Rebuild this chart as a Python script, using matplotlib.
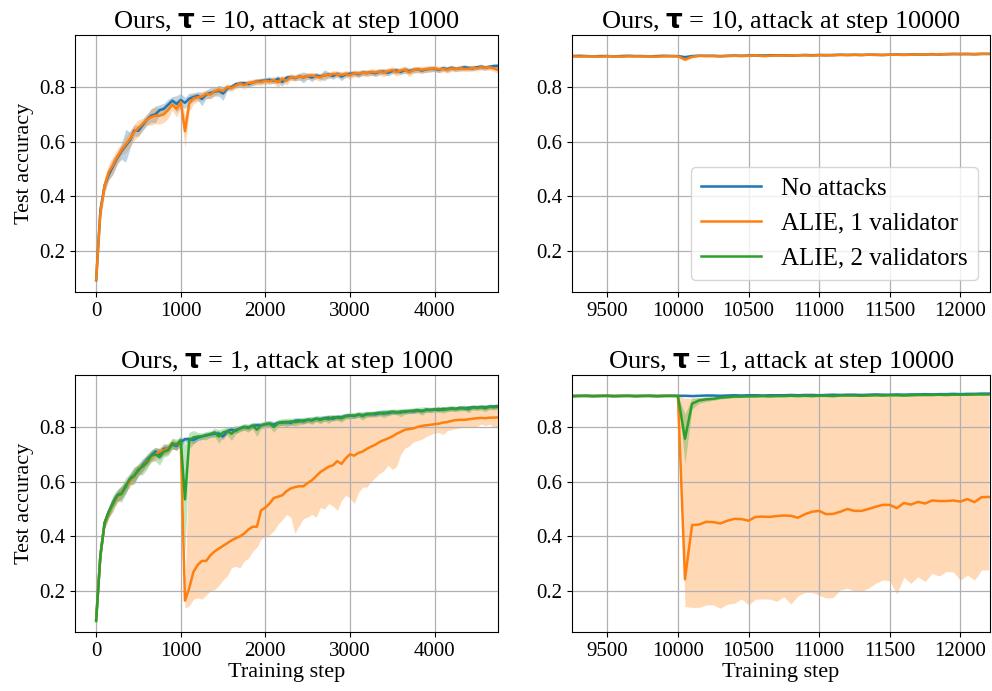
import numpy as np
import matplotlib
matplotlib.use("Agg")
import matplotlib.pyplot as plt
from matplotlib.lines import Line2D

plt.rcParams['font.family'] = 'serif'
plt.rcParams['font.serif'] = ['Liberation Serif', 'DejaVu Serif']
plt.rcParams['mathtext.fontset'] = 'dejavusans'

BLUE, ORANGE, GREEN = '#1f77b4', '#ff7f0e', '#2ca02c'

# ---- attack at step 1000: evaluation every 50 steps, 0..4750 ----
early_steps = np.arange(0, 4800, 50)

# tau = 10
t10_early_none = [
    0.093, 0.35, 0.44, 0.48, 0.51, 0.54, 0.565, 0.585, 0.605, 0.64,
    0.64, 0.66, 0.68, 0.695, 0.70, 0.715, 0.72, 0.735, 0.75, 0.738,
    0.752, 0.742, 0.757, 0.763, 0.768, 0.756, 0.772, 0.778, 0.782, 0.786,
    0.776, 0.795, 0.80, 0.81, 0.812, 0.814, 0.81, 0.816, 0.82, 0.822,
    0.824, 0.826, 0.822, 0.83, 0.818, 0.834, 0.836, 0.832, 0.838, 0.835,
    0.84, 0.834, 0.842, 0.838, 0.843, 0.845, 0.84, 0.848, 0.838, 0.846,
    0.848, 0.85, 0.846, 0.852, 0.851, 0.853, 0.85, 0.855, 0.856, 0.852,
    0.858, 0.86, 0.855, 0.862, 0.858, 0.862, 0.864, 0.86, 0.864, 0.866,
    0.866, 0.862, 0.868, 0.865, 0.87, 0.866, 0.868, 0.872, 0.87, 0.868,
    0.872, 0.874, 0.87, 0.874, 0.876, 0.877]
t10_early_none_sd = [
    0.0, 0.03, 0.02, 0.02, 0.03, 0.02, 0.03, 0.06, 0.03, 0.02,
    0.02, 0.02, 0.02, 0.025, 0.03, 0.02, 0.02, 0.02, 0.015, 0.03,
    0.025, 0.02, 0.02, 0.015, 0.015, 0.025, 0.015, 0.02, 0.015, 0.02,
    0.025, 0.01, 0.01, 0.01, 0.01, 0.01, 0.01, 0.01, 0.01, 0.01,
    0.01, 0.012, 0.01, 0.012, 0.015, 0.01, 0.01, 0.01, 0.012, 0.02,
    0.01, 0.015, 0.01, 0.01, 0.02, 0.01, 0.012, 0.01, 0.015, 0.01,
    0.01, 0.01, 0.012, 0.01, 0.01, 0.01, 0.012, 0.01, 0.01, 0.012,
    0.01, 0.01, 0.01, 0.012, 0.01, 0.01, 0.01, 0.01, 0.01, 0.01,
    0.01, 0.01, 0.01, 0.01, 0.01, 0.008, 0.01, 0.01, 0.008, 0.01,
    0.008, 0.01, 0.008, 0.008, 0.01, 0.008]
t10_early_alie1 = [
    0.095, 0.34, 0.44, 0.49, 0.515, 0.545, 0.57, 0.59, 0.61, 0.635,
    0.65, 0.665, 0.68, 0.69, 0.695, 0.695, 0.70, 0.715, 0.735, 0.72,
    0.745, 0.638, 0.74, 0.758, 0.762, 0.765, 0.775, 0.772, 0.784, 0.79,
    0.785, 0.80, 0.796, 0.805, 0.812, 0.806, 0.815, 0.816, 0.82, 0.818,
    0.823, 0.82, 0.826, 0.816, 0.83, 0.822, 0.836, 0.834, 0.838, 0.836,
    0.84, 0.842, 0.838, 0.835, 0.844, 0.842, 0.848, 0.846, 0.844, 0.848,
    0.842, 0.85, 0.849, 0.852, 0.85, 0.855, 0.853, 0.856, 0.852, 0.858,
    0.862, 0.854, 0.86, 0.864, 0.853, 0.862, 0.864, 0.863, 0.865, 0.866,
    0.868, 0.864, 0.866, 0.862, 0.868, 0.865, 0.869, 0.866, 0.866, 0.87,
    0.868, 0.872, 0.87, 0.872, 0.868, 0.862]
t10_early_alie1_sd = [
    0.0, 0.03, 0.03, 0.03, 0.03, 0.03, 0.02, 0.03, 0.03, 0.03,
    0.03, 0.02, 0.02, 0.03, 0.03, 0.03, 0.03, 0.03, 0.02, 0.03,
    0.02, 0.06, 0.03, 0.02, 0.015, 0.015, 0.015, 0.015, 0.015, 0.015,
    0.015, 0.012, 0.012, 0.012, 0.012, 0.012, 0.012, 0.012, 0.012, 0.012,
    0.012, 0.012, 0.012, 0.02, 0.012, 0.015, 0.012, 0.012, 0.012, 0.012,
    0.012, 0.012, 0.012, 0.015, 0.012, 0.012, 0.012, 0.012, 0.012, 0.012,
    0.015, 0.012, 0.012, 0.012, 0.012, 0.012, 0.012, 0.012, 0.015, 0.012,
    0.012, 0.015, 0.012, 0.012, 0.015, 0.012, 0.012, 0.012, 0.012, 0.012,
    0.01, 0.012, 0.01, 0.012, 0.01, 0.01, 0.01, 0.01, 0.01, 0.01,
    0.01, 0.01, 0.01, 0.01, 0.012, 0.012]

# tau = 1
t1_early_none = [
    0.095, 0.33, 0.45, 0.49, 0.525, 0.55, 0.56, 0.58, 0.61, 0.625,
    0.64, 0.66, 0.68, 0.695, 0.71, 0.70, 0.72, 0.72, 0.735, 0.73,
    0.745, 0.755, 0.755, 0.752, 0.76, 0.765, 0.77, 0.772, 0.775, 0.776,
    0.765, 0.785, 0.79, 0.786, 0.795, 0.80, 0.798, 0.804, 0.806, 0.805,
    0.81, 0.812, 0.808, 0.815, 0.816, 0.818, 0.815, 0.822, 0.824, 0.82,
    0.826, 0.825, 0.83, 0.828, 0.832, 0.834, 0.83, 0.836, 0.835, 0.84,
    0.842, 0.84, 0.845, 0.843, 0.846, 0.848, 0.846, 0.85, 0.852, 0.85,
    0.854, 0.853, 0.856, 0.855, 0.858, 0.857, 0.86, 0.858, 0.862, 0.862,
    0.864, 0.862, 0.866, 0.865, 0.867, 0.866, 0.87, 0.868, 0.87, 0.872,
    0.871, 0.873, 0.872, 0.874, 0.875, 0.876]
t1_early_none_sd = [
    0.0, 0.03, 0.02, 0.02, 0.02, 0.02, 0.025, 0.02, 0.02, 0.03,
    0.02, 0.02, 0.02, 0.02, 0.015, 0.02, 0.02, 0.015, 0.015, 0.015,
    0.015, 0.01, 0.01, 0.012, 0.01, 0.01, 0.01, 0.01, 0.012, 0.01,
    0.012, 0.01, 0.01, 0.01, 0.01, 0.01, 0.01, 0.01, 0.01, 0.01,
    0.01, 0.01, 0.01, 0.01, 0.01, 0.01, 0.01, 0.01, 0.01, 0.01,
    0.01, 0.01, 0.01, 0.01, 0.01, 0.01, 0.01, 0.01, 0.01, 0.01,
    0.01, 0.01, 0.01, 0.01, 0.01, 0.01, 0.01, 0.01, 0.01, 0.01,
    0.008, 0.008, 0.008, 0.008, 0.008, 0.008, 0.008, 0.008, 0.008, 0.008,
    0.008, 0.008, 0.008, 0.008, 0.008, 0.008, 0.008, 0.008, 0.008, 0.008,
    0.008, 0.008, 0.008, 0.008, 0.008, 0.008]
t1_early_alie1 = [
    0.095, 0.33, 0.45, 0.485, 0.52, 0.545, 0.56, 0.585, 0.60, 0.625,
    0.645, 0.655, 0.675, 0.69, 0.70, 0.71, 0.715, 0.72, 0.74, 0.735,
    0.75, 0.165, 0.21, 0.27, 0.295, 0.31, 0.31, 0.33, 0.345, 0.355,
    0.365, 0.375, 0.385, 0.393, 0.40, 0.41, 0.425, 0.435, 0.435, 0.495,
    0.505, 0.52, 0.54, 0.545, 0.55, 0.565, 0.575, 0.58, 0.583, 0.583,
    0.595, 0.605, 0.62, 0.635, 0.645, 0.655, 0.66, 0.675, 0.665, 0.685,
    0.70, 0.695, 0.705, 0.71, 0.72, 0.728, 0.735, 0.745, 0.752, 0.758,
    0.765, 0.775, 0.782, 0.79, 0.792, 0.795, 0.80, 0.804, 0.806, 0.808,
    0.81, 0.812, 0.816, 0.818, 0.822, 0.825, 0.826, 0.826, 0.828, 0.83,
    0.832, 0.833, 0.832, 0.834, 0.834, 0.835]
t1_early_alie1_lo = [
    0.09, 0.31, 0.43, 0.465, 0.50, 0.52, 0.54, 0.56, 0.58, 0.60,
    0.62, 0.635, 0.655, 0.67, 0.68, 0.69, 0.695, 0.70, 0.72, 0.715,
    0.73, 0.137, 0.145, 0.17, 0.175, 0.17, 0.185, 0.20, 0.205, 0.22,
    0.24, 0.255, 0.285, 0.29, 0.285, 0.31, 0.32, 0.345, 0.36, 0.39,
    0.40, 0.405, 0.42, 0.445, 0.46, 0.48, 0.47, 0.41, 0.44, 0.465,
    0.47, 0.48, 0.47, 0.505, 0.50, 0.52, 0.51, 0.495, 0.53, 0.55,
    0.54, 0.52, 0.56, 0.58, 0.58, 0.60, 0.615, 0.63, 0.64, 0.66,
    0.645, 0.655, 0.70, 0.722, 0.73, 0.745, 0.75, 0.755, 0.765, 0.772,
    0.778, 0.78, 0.772, 0.786, 0.79, 0.794, 0.796, 0.80, 0.80, 0.80,
    0.802, 0.81, 0.805, 0.81, 0.80, 0.80]
t1_early_alie1_hi = [
    0.10, 0.35, 0.47, 0.505, 0.54, 0.565, 0.58, 0.605, 0.62, 0.645,
    0.665, 0.675, 0.695, 0.71, 0.72, 0.725, 0.735, 0.74, 0.755, 0.75,
    0.76, 0.19, 0.745, 0.748, 0.752, 0.758, 0.762, 0.766, 0.77, 0.772,
    0.77, 0.78, 0.786, 0.784, 0.79, 0.796, 0.795, 0.80, 0.803, 0.802,
    0.806, 0.81, 0.805, 0.812, 0.813, 0.815, 0.812, 0.818, 0.82, 0.818,
    0.822, 0.822, 0.826, 0.825, 0.828, 0.83, 0.828, 0.832, 0.832, 0.836,
    0.838, 0.837, 0.84, 0.84, 0.842, 0.845, 0.843, 0.846, 0.848, 0.847,
    0.85, 0.85, 0.852, 0.852, 0.855, 0.854, 0.857, 0.855, 0.858, 0.859,
    0.86, 0.86, 0.862, 0.862, 0.864, 0.863, 0.866, 0.865, 0.867, 0.868,
    0.868, 0.87, 0.869, 0.871, 0.872, 0.872]
t1_early_alie2 = [
    0.09, 0.33, 0.45, 0.49, 0.52, 0.55, 0.555, 0.585, 0.61, 0.62,
    0.645, 0.655, 0.67, 0.695, 0.70, 0.69, 0.71, 0.715, 0.74, 0.735,
    0.752, 0.535, 0.75, 0.762, 0.765, 0.766, 0.768, 0.774, 0.78, 0.765,
    0.78, 0.785, 0.775, 0.79, 0.794, 0.80, 0.796, 0.805, 0.79, 0.806,
    0.81, 0.812, 0.80, 0.814, 0.818, 0.816, 0.82, 0.818, 0.82, 0.824,
    0.826, 0.824, 0.83, 0.826, 0.832, 0.828, 0.836, 0.834, 0.832, 0.84,
    0.84, 0.842, 0.845, 0.84, 0.848, 0.846, 0.85, 0.852, 0.848, 0.854,
    0.856, 0.855, 0.852, 0.858, 0.858, 0.86, 0.862, 0.858, 0.864, 0.862,
    0.864, 0.866, 0.862, 0.866, 0.868, 0.866, 0.868, 0.87, 0.864, 0.872,
    0.87, 0.872, 0.868, 0.874, 0.872, 0.874]
t1_early_alie2_sd = [
    0.0, 0.02, 0.02, 0.02, 0.03, 0.02, 0.03, 0.03, 0.02, 0.03,
    0.02, 0.03, 0.025, 0.02, 0.025, 0.03, 0.02, 0.02, 0.02, 0.02,
    0.015, 0.2, 0.03, 0.025, 0.015, 0.012, 0.015, 0.012, 0.015, 0.025,
    0.015, 0.015, 0.025, 0.015, 0.012, 0.012, 0.015, 0.012, 0.025, 0.012,
    0.012, 0.012, 0.02, 0.012, 0.012, 0.015, 0.012, 0.015, 0.012, 0.012,
    0.01, 0.015, 0.01, 0.015, 0.01, 0.015, 0.01, 0.01, 0.015, 0.01,
    0.01, 0.01, 0.01, 0.015, 0.01, 0.01, 0.01, 0.01, 0.015, 0.01,
    0.01, 0.01, 0.015, 0.01, 0.01, 0.01, 0.01, 0.015, 0.01, 0.01,
    0.01, 0.01, 0.012, 0.01, 0.01, 0.01, 0.01, 0.01, 0.012, 0.01,
    0.01, 0.01, 0.012, 0.01, 0.01, 0.01]

# ---- attack at step 10000: evaluation every 50 steps, 9250..12200 ----
late_steps = np.arange(9250, 12250, 50)

t10_late_none = [
    0.913, 0.914, 0.913, 0.912, 0.913, 0.913, 0.912, 0.913, 0.914, 0.913,
    0.913, 0.912, 0.913, 0.914, 0.913, 0.913, 0.909, 0.913, 0.914, 0.914,
    0.914, 0.913, 0.914, 0.915, 0.914, 0.915, 0.916, 0.915, 0.916, 0.916,
    0.916, 0.915, 0.916, 0.917, 0.916, 0.917, 0.916, 0.917, 0.918, 0.917,
    0.918, 0.917, 0.918, 0.918, 0.917, 0.918, 0.919, 0.918, 0.919, 0.919,
    0.919, 0.920, 0.919, 0.920, 0.921, 0.920, 0.921, 0.920, 0.921, 0.921]
t10_late_alie1 = [
    0.912, 0.911, 0.912, 0.912, 0.911, 0.912, 0.912, 0.911, 0.912, 0.912,
    0.912, 0.912, 0.911, 0.912, 0.913, 0.912, 0.900, 0.910, 0.914, 0.913,
    0.913, 0.912, 0.913, 0.914, 0.913, 0.914, 0.916, 0.913, 0.914, 0.915,
    0.915, 0.915, 0.916, 0.916, 0.915, 0.916, 0.917, 0.916, 0.917, 0.917,
    0.917, 0.917, 0.918, 0.917, 0.917, 0.918, 0.918, 0.917, 0.918, 0.919,
    0.919, 0.919, 0.920, 0.920, 0.920, 0.921, 0.920, 0.920, 0.921, 0.921]
t10_late_sd = [
    0.003, 0.003, 0.003, 0.003, 0.003, 0.003, 0.003, 0.003, 0.003, 0.003,
    0.003, 0.003, 0.003, 0.003, 0.003, 0.003, 0.006, 0.003, 0.003, 0.003,
    0.003, 0.003, 0.003, 0.003, 0.003, 0.003, 0.004, 0.003, 0.003, 0.003,
    0.003, 0.003, 0.003, 0.003, 0.003, 0.003, 0.003, 0.003, 0.003, 0.003,
    0.003, 0.003, 0.003, 0.003, 0.003, 0.003, 0.003, 0.003, 0.003, 0.003,
    0.003, 0.003, 0.003, 0.003, 0.003, 0.003, 0.003, 0.003, 0.003, 0.003]

t1_late_none = [
    0.913, 0.914, 0.914, 0.913, 0.914, 0.914, 0.913, 0.914, 0.914, 0.913,
    0.914, 0.914, 0.913, 0.914, 0.914, 0.914, 0.914, 0.913, 0.914, 0.915,
    0.915, 0.914, 0.915, 0.916, 0.915, 0.916, 0.916, 0.915, 0.916, 0.916,
    0.916, 0.917, 0.916, 0.917, 0.917, 0.916, 0.917, 0.918, 0.917, 0.918,
    0.918, 0.917, 0.918, 0.919, 0.918, 0.918, 0.919, 0.918, 0.919, 0.919,
    0.920, 0.919, 0.920, 0.920, 0.921, 0.920, 0.921, 0.921, 0.922, 0.922]
t1_late_none_sd = [
    0.003, 0.003, 0.003, 0.003, 0.003, 0.003, 0.003, 0.003, 0.003, 0.003,
    0.003, 0.003, 0.003, 0.003, 0.003, 0.003, 0.003, 0.003, 0.003, 0.003,
    0.003, 0.003, 0.003, 0.003, 0.003, 0.003, 0.003, 0.003, 0.003, 0.003,
    0.003, 0.003, 0.003, 0.003, 0.003, 0.003, 0.003, 0.003, 0.003, 0.003,
    0.003, 0.003, 0.003, 0.003, 0.003, 0.003, 0.003, 0.003, 0.003, 0.003,
    0.003, 0.003, 0.003, 0.003, 0.003, 0.003, 0.003, 0.003, 0.003, 0.003]
t1_late_alie1 = [
    0.913, 0.914, 0.913, 0.913, 0.914, 0.913, 0.913, 0.914, 0.913, 0.913,
    0.914, 0.913, 0.913, 0.914, 0.913, 0.914, 0.243, 0.441, 0.443, 0.453,
    0.452, 0.447, 0.457, 0.464, 0.463, 0.457, 0.471, 0.472, 0.471, 0.474,
    0.476, 0.475, 0.468, 0.481, 0.490, 0.493, 0.481, 0.482, 0.490, 0.500,
    0.493, 0.493, 0.500, 0.508, 0.515, 0.515, 0.503, 0.522, 0.516, 0.526,
    0.520, 0.531, 0.529, 0.529, 0.531, 0.527, 0.536, 0.525, 0.543, 0.544]
t1_late_alie1_lo = [
    0.910, 0.911, 0.910, 0.910, 0.911, 0.910, 0.910, 0.911, 0.910, 0.910,
    0.911, 0.910, 0.910, 0.911, 0.910, 0.911, 0.143, 0.140, 0.140, 0.149,
    0.149, 0.137, 0.152, 0.155, 0.171, 0.149, 0.170, 0.171, 0.170, 0.162,
    0.179, 0.152, 0.182, 0.195, 0.195, 0.185, 0.174, 0.176, 0.204, 0.210,
    0.200, 0.200, 0.210, 0.228, 0.240, 0.238, 0.189, 0.250, 0.228, 0.252,
    0.234, 0.265, 0.255, 0.271, 0.270, 0.240, 0.258, 0.240, 0.277, 0.277]
t1_late_alie1_hi = [
    0.916, 0.917, 0.916, 0.916, 0.917, 0.916, 0.916, 0.917, 0.916, 0.916,
    0.917, 0.916, 0.916, 0.917, 0.916, 0.917, 0.905, 0.905, 0.908, 0.910,
    0.910, 0.911, 0.911, 0.912, 0.912, 0.912, 0.913, 0.913, 0.913, 0.913,
    0.913, 0.914, 0.913, 0.914, 0.914, 0.914, 0.915, 0.914, 0.915, 0.915,
    0.915, 0.916, 0.916, 0.916, 0.916, 0.917, 0.916, 0.917, 0.917, 0.917,
    0.917, 0.918, 0.918, 0.918, 0.918, 0.919, 0.918, 0.919, 0.919, 0.919]
t1_late_alie2 = [
    0.913, 0.913, 0.914, 0.913, 0.913, 0.914, 0.913, 0.913, 0.914, 0.913,
    0.913, 0.914, 0.913, 0.913, 0.914, 0.913, 0.757, 0.885, 0.897, 0.901,
    0.903, 0.907, 0.909, 0.911, 0.911, 0.912, 0.912, 0.913, 0.912, 0.913,
    0.913, 0.914, 0.913, 0.914, 0.913, 0.914, 0.914, 0.913, 0.915, 0.915,
    0.915, 0.914, 0.915, 0.916, 0.915, 0.916, 0.916, 0.915, 0.916, 0.917,
    0.917, 0.917, 0.918, 0.917, 0.918, 0.918, 0.918, 0.919, 0.919, 0.919]
t1_late_alie2_sd = [
    0.003, 0.003, 0.003, 0.003, 0.003, 0.003, 0.003, 0.003, 0.003, 0.003,
    0.003, 0.003, 0.003, 0.003, 0.003, 0.003, 0.09, 0.02, 0.01, 0.008,
    0.006, 0.005, 0.004, 0.004, 0.003, 0.003, 0.003, 0.003, 0.003, 0.003,
    0.003, 0.003, 0.003, 0.003, 0.003, 0.003, 0.003, 0.003, 0.003, 0.003,
    0.003, 0.003, 0.003, 0.003, 0.003, 0.003, 0.003, 0.003, 0.003, 0.003,
    0.003, 0.003, 0.003, 0.003, 0.003, 0.003, 0.003, 0.003, 0.003, 0.003]

labels = ['No attacks', 'ALIE, 1 validator', 'ALIE, 2 validators']


def band(ax, x, mean, lo, hi, color):
    ax.fill_between(x, lo, hi, color=color, alpha=0.3, linewidth=0)
    ax.plot(x, mean, color=color, linewidth=1.8)


def sym(ax, x, mean, sd, color):
    mean = np.asarray(mean)
    sd = np.asarray(sd)
    band(ax, x, mean, mean - sd, mean + sd, color)


fig = plt.figure(figsize=(9.92, 6.91), dpi=100)
W, H = 992, 691


def place(l, t, r, b):
    return fig.add_axes([l / W, 1 - b / H, (r - l) / W, (b - t) / H])


ax_tl = place(75, 35, 498, 292)
ax_tr = place(572, 35, 990, 292)
ax_bl = place(75, 375, 498, 632)
ax_br = place(572, 375, 990, 632)

sym(ax_tl, early_steps, t10_early_none, t10_early_none_sd, BLUE)
sym(ax_tl, early_steps, t10_early_alie1, t10_early_alie1_sd, ORANGE)

sym(ax_tr, late_steps, t10_late_none, t10_late_sd, BLUE)
sym(ax_tr, late_steps, t10_late_alie1, t10_late_sd, ORANGE)

sym(ax_bl, early_steps, t1_early_none, t1_early_none_sd, BLUE)
band(ax_bl, early_steps, t1_early_alie1, t1_early_alie1_lo, t1_early_alie1_hi, ORANGE)
sym(ax_bl, early_steps, t1_early_alie2, t1_early_alie2_sd, GREEN)

sym(ax_br, late_steps, t1_late_none, t1_late_none_sd, BLUE)
band(ax_br, late_steps, t1_late_alie1, t1_late_alie1_lo, t1_late_alie1_hi, ORANGE)
sym(ax_br, late_steps, t1_late_alie2, t1_late_alie2_sd, GREEN)

titles = {
    ax_tl: r'Ours, $\mathbf{\tau}$ = 10, attack at step 1000',
    ax_tr: r'Ours, $\mathbf{\tau}$ = 10, attack at step 10000',
    ax_bl: r'Ours, $\mathbf{\tau}$ = 1, attack at step 1000',
    ax_br: r'Ours, $\mathbf{\tau}$ = 1, attack at step 10000',
}

for ax, title in titles.items():
    ax.set_title(title, fontsize=19, pad=5)
    ax.set_ylim(0.05, 0.99)
    ax.set_yticks([0.2, 0.4, 0.6, 0.8])
    ax.grid(True, color='#b0b0b0', linewidth=0.9)
    ax.tick_params(labelsize=15)

for ax in (ax_tl, ax_bl):
    ax.set_xlim(-250, 4750)
    ax.set_xticks([0, 1000, 2000, 3000, 4000])
    ax.set_ylabel('Test accuracy', fontsize=16)
for ax in (ax_tr, ax_br):
    ax.set_xlim(9250, 12210)
    ax.set_xticks([9500, 10000, 10500, 11000, 11500, 12000])
for ax in (ax_bl, ax_br):
    ax.set_xlabel('Training step', fontsize=16, labelpad=2)

handles = [Line2D([], [], color=c, linewidth=1.8) for c in (BLUE, ORANGE, GREEN)]
ax_tr.legend(handles, labels, loc='lower right', fontsize=18, handlelength=2.4)

fig.savefig('out.png', dpi=100)
